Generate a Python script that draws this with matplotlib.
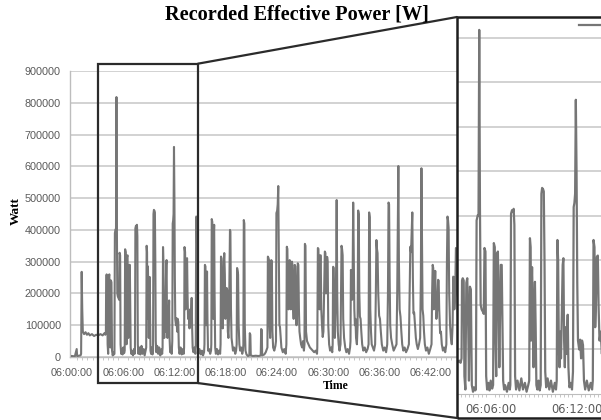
import matplotlib
matplotlib.use("Agg")
import matplotlib.pyplot as plt
from matplotlib.patches import Rectangle, ConnectionPatch
from matplotlib.ticker import MultipleLocator

# ---------------- data ----------------
# time in seconds after 06:00:00
t_sec = [
    0, 20, 30, 33, 36, 60, 64, 68, 72, 76, 85, 95, 105, 115, 125, 140, 155, 170, 185, 200, 215, 228, 234,
    238, 240, 243, 247, 250, 254, 258, 262, 266, 269, 273, 277, 281, 286,
    290, 295, 298, 301, 306, 309, 312, 315, 318, 322, 327, 331, 334, 338, 341, 345,
    350, 355, 360, 366,
    370, 373, 377, 380, 383, 386, 390, 393, 396, 399, 402, 406, 409, 412, 416,
    420, 428, 435, 440,
    442, 445, 449, 453, 456, 459, 462, 466,
    472, 480, 488, 495, 503, 510, 517,
    521, 524, 527, 529, 531, 533, 536, 539, 542, 545, 548, 551, 555,
    560, 565,
    569, 572, 575, 579, 582, 585, 588, 592,
    598, 605, 612, 620, 628, 633,
    636, 639, 642, 645, 648, 651, 654, 658, 661, 664, 667, 670, 673, 676, 679, 682, 685, 689,
    695, 700, 704, 707, 710, 713, 716, 719, 722, 725, 730, 734, 738, 742, 746, 750, 755,
    762, 770, 778, 784,
    787, 790, 794, 797, 800, 804, 808, 811, 815, 820, 825, 830, 835, 840, 843, 847,
    852, 860, 866,
    869, 872, 876, 879, 882, 888,
    895, 905, 912, 920, 927,
    930, 933, 937, 941, 945, 948, 951, 955,
    962, 970, 976,
    978, 981, 985, 988, 992, 995, 998, 1001, 1005, 1010,
    1018, 1025, 1032, 1040,
    1043, 1046, 1050, 1054, 1058, 1062, 1066, 1069, 1073, 1077, 1081, 1086, 1090, 1094, 1098,
    1102, 1106, 1109, 1112, 1116, 1120, 1125, 1130,
    1138, 1146, 1152,
    1156, 1159, 1163, 1166, 1170, 1175, 1180,
    1188, 1195, 1200,
    1203, 1206, 1210, 1213, 1218,
    1225, 1235, 1245, 1248, 1252, 1255, 1270, 1290, 1310, 1325, 1328, 1332, 1335, 1350, 1360, 1368,
    1372, 1375, 1379, 1383, 1387, 1391, 1395, 1399, 1403, 1407, 1412, 1420, 1428,
    1432, 1435, 1440, 1444, 1448, 1452, 1456, 1460, 1465, 1470, 1480, 1490, 1500,
    1505, 1508, 1512, 1516, 1520, 1524, 1528, 1532, 1536, 1540, 1544, 1548, 1552, 1556, 1560,
    1564, 1568, 1572, 1576, 1580, 1585, 1589, 1593, 1597, 1602, 1608, 1615, 1622, 1628,
    1632, 1635, 1639, 1643, 1650, 1660, 1670, 1680, 1690, 1700, 1710, 1720,
    1722, 1726, 1730, 1734, 1738, 1742, 1746, 1750, 1755, 1760, 1765, 1770, 1775, 1779, 1783,
    1787, 1791, 1795, 1799, 1805, 1812, 1820, 1827,
    1830, 1833, 1837, 1841, 1845, 1850, 1855, 1858, 1862, 1866, 1872,
    1878, 1885, 1889, 1892, 1896, 1900, 1904, 1910, 1918, 1926, 1935, 1945, 1952,
    1955, 1958, 1962, 1966, 1970, 1974, 1978, 1982, 1986, 1990, 1994, 2000,
    2005, 2009, 2013, 2017, 2021, 2026, 2031, 2037, 2045, 2055, 2065, 2075,
    2082, 2086, 2090, 2094, 2099, 2104, 2112, 2120,
    2128, 2133, 2137, 2141, 2145, 2150, 2156, 2162, 2168, 2175, 2185, 2195, 2205,
    2213, 2218, 2222, 2226, 2230, 2234, 2240, 2248, 2258, 2268,
    2278, 2283, 2287, 2291, 2295, 2300, 2306, 2312, 2318, 2326, 2335, 2345, 2355,
    2365, 2370, 2375, 2380, 2385, 2389, 2393, 2397, 2402, 2408, 2414, 2420, 2428, 2436,
    2444, 2449, 2453, 2457, 2461, 2466, 2471, 2477, 2485, 2495, 2505, 2515,
    2524, 2528, 2532, 2536, 2540, 2545, 2550, 2554, 2558, 2564, 2570, 2574, 2578, 2584, 2590,
    2596, 2604, 2612, 2620,
    2628, 2632, 2636, 2640, 2644, 2648, 2654, 2660, 2666,
    2672, 2676, 2680, 2684, 2690, 2695, 2700, 2705, 2712, 2720, 2735, 2750, 2765, 2780,
]
watt = [
    3000, 2000, 20000, 25000, 3000, 5000, 10000, 268000, 150000, 80000, 72000, 78000, 70000, 75000, 68000, 72000, 66000, 70000, 68000, 72000, 68000, 75000, 70000,
    80000, 255000, 260000, 255000, 40000, 10000, 250000, 260000, 150000, 30000, 241000, 235000, 20000, 5000,
    15000, 8000, 10000, 390000, 402000, 400000, 818000, 420000, 200000, 190000, 185000, 180000, 328000, 320000, 40000, 10000,
    25000, 8000, 30000, 12000,
    20000, 339000, 330000, 120000, 40000, 315000, 320000, 200000, 60000, 180000, 290000, 290000, 150000, 30000, 10000,
    20000, 5000, 25000, 10000,
    20000, 405000, 413000, 410000, 416000, 380000, 40000, 10000,
    30000, 8000, 35000, 10000, 25000, 5000, 20000,
    30000, 350000, 330000, 120000, 240000, 285000, 200000, 60000, 180000, 252000, 150000, 20000, 10000,
    30000, 8000,
    20000, 450000, 463000, 460000, 455000, 300000, 50000, 15000,
    35000, 10000, 30000, 5000, 25000, 10000,
    30000, 346000, 300000, 100000, 60000, 140000, 80000, 200000, 290000, 305000, 120000, 60000, 150000, 90000, 130000, 178000, 60000, 15000,
    25000, 10000, 50000, 420000, 429000, 450000, 661000, 500000, 250000, 120000, 100000, 122000, 80000, 120000, 110000, 30000, 10000,
    30000, 8000, 25000, 10000,
    30000, 346000, 330000, 150000, 200000, 308000, 311000, 200000, 120000, 140000, 90000, 150000, 120000, 186000, 100000, 30000,
    15000, 30000, 10000,
    40000, 442000, 440000, 300000, 40000, 10000,
    25000, 8000, 20000, 5000, 15000,
    40000, 290000, 285000, 100000, 200000, 269000, 120000, 20000,
    25000, 10000, 20000,
    40000, 434000, 425000, 200000, 120000, 380000, 416000, 200000, 30000, 10000,
    25000, 8000, 20000, 10000,
    40000, 316000, 310000, 150000, 90000, 200000, 300000, 327000, 260000, 120000, 180000, 217000, 210000, 80000, 60000,
    120000, 300000, 400000, 395000, 150000, 60000, 40000, 20000,
    30000, 10000, 20000,
    40000, 280000, 270000, 259000, 100000, 40000, 20000,
    30000, 10000, 20000,
    40000, 431000, 420000, 100000, 20000,
    8000, 3000, 5000, 75000, 70000, 5000, 3000, 4000, 3000, 5000, 88000, 85000, 5000, 8000, 15000, 25000,
    30000, 316000, 312000, 305000, 100000, 60000, 150000, 305000, 300000, 80000, 30000, 20000, 35000,
    50000, 453000, 460000, 480000, 538000, 300000, 100000, 95000, 60000, 30000, 15000, 25000, 10000,
    40000, 347000, 340000, 200000, 150000, 250000, 305000, 300000, 150000, 200000, 300000, 290000, 160000, 120000, 200000,
    290000, 285000, 150000, 100000, 160000, 295000, 290000, 150000, 80000, 60000, 40000, 30000, 50000, 20000,
    40000, 356000, 350000, 80000, 50000, 40000, 30000, 25000, 20000, 15000, 20000, 10000,
    30000, 343000, 340000, 200000, 150000, 320000, 320000, 150000, 100000, 63000, 80000, 200000, 332000, 327000, 200000,
    250000, 315000, 300000, 100000, 40000, 20000, 30000, 15000,
    40000, 284000, 280000, 100000, 60000, 150000, 300000, 494000, 200000, 80000, 40000,
    20000, 40000, 200000, 350000, 340000, 320000, 120000, 60000, 30000, 15000, 25000, 10000, 30000,
    50000, 274000, 260000, 180000, 250000, 486000, 300000, 150000, 100000, 120000, 60000, 40000,
    100000, 461000, 450000, 200000, 127000, 120000, 80000, 40000, 20000, 30000, 15000, 25000,
    40000, 455000, 440000, 150000, 80000, 40000, 30000, 20000,
    40000, 200000, 368000, 340000, 327000, 200000, 130000, 120000, 80000, 40000, 20000, 30000, 15000,
    40000, 200000, 486000, 480000, 250000, 100000, 60000, 40000, 20000, 30000,
    40000, 200000, 400000, 601000, 300000, 150000, 127000, 80000, 40000, 20000, 30000, 15000, 25000,
    40000, 200000, 347000, 330000, 400000, 455000, 250000, 137000, 140000, 100000, 60000, 40000, 25000, 40000,
    60000, 250000, 594000, 350000, 150000, 130000, 80000, 40000, 20000, 30000, 10000, 25000,
    40000, 200000, 290000, 280000, 150000, 200000, 271000, 180000, 120000, 150000, 243000, 240000, 150000, 75000, 80000,
    40000, 20000, 30000, 15000,
    40000, 300000, 442000, 430000, 406000, 200000, 100000, 60000, 40000,
    100000, 253000, 250000, 150000, 200000, 343000, 340000, 200000, 100000, 60000, 30000, 20000, 30000, 15000,
]

y_tick_values = [0, 100000, 200000, 300000, 400000, 500000, 600000, 700000, 800000, 900000]
y_tick_labels = ["0", "100000", "200000", "300000", "400000", "500000",
                 "600000", "700000", "800000", "900000"]
x_tick_sec = [0, 360, 720, 1080, 1440, 1800, 2160, 2520]
x_tick_labels = ["06:00:00", "06:06:00", "06:12:00", "06:18:00",
                 "06:24:00", "06:30:00", "06:36:00", "06:42:00"]
inset_tick_sec = [360, 720]
inset_tick_labels = ["06:06:00", "06:12:00"]
zoom_window = (182, 884)          # seconds marked by the rectangle
zoom_value_span = (-82000, 923000)

# ---------------- figure ----------------
W, H = 601, 420
fig = plt.figure(figsize=(W / 100, H / 100), dpi=100)
serif = ["Liberation Serif", "DejaVu Serif"]
sans = ["Liberation Sans", "DejaVu Sans"]
line_col = "#767676"
grid_col = "#cfcfcf"
axis_col = "#bdbdbd"
lab_col = "#5a5a5a"

ax = fig.add_axes([70 / W, (H - 357) / H, 400 / W, (357 - 71) / H])
ax.plot(t_sec, watt, color=line_col, lw=1.5, zorder=3)
ax.set_xlim(-14, 2794)
ax.set_ylim(0, 900000)
ax.set_yticks(y_tick_values)
ax.set_yticklabels(y_tick_labels, fontfamily=sans)
ax.set_xticks(x_tick_sec)
ax.set_xticklabels(x_tick_labels, fontfamily=sans)
ax.xaxis.set_minor_locator(MultipleLocator(36))
ax.grid(axis="y", color=grid_col, lw=1.3)
ax.set_axisbelow(True)
for s in ["top", "right"]:
    ax.spines[s].set_visible(False)
for s in ["left", "bottom"]:
    ax.spines[s].set_color(axis_col)
    ax.spines[s].set_linewidth(1.0)
ax.tick_params(axis="both", which="major", length=0, labelsize=7.8, labelcolor=lab_col)
ax.tick_params(axis="y", pad=6.5)
ax.tick_params(axis="x", pad=8)
ax.tick_params(axis="x", which="minor", length=2, color=axis_col)

ax.add_patch(Rectangle((zoom_window[0], zoom_value_span[0]),
                       zoom_window[1] - zoom_window[0],
                       zoom_value_span[1] - zoom_value_span[0],
                       fill=False, ec="#2b2b2b", lw=1.6, clip_on=False, zorder=6))

# ---------------- inset ----------------
ax_in = fig.add_axes([457 / W, 2 / H, 159 / W, 401 / H])
ax_in.set_facecolor("white")
leg_line, = ax_in.plot(t_sec, watt, color=line_col, lw=1.6, zorder=3)
ax_in.set_xlim(219, zoom_window[1])
ax_in.set_ylim(-54000, 847000)
ax_in.set_yticks(y_tick_values[1:9])
ax_in.set_yticklabels([])
ax_in.set_xticks(inset_tick_sec)
ax_in.set_xticklabels(inset_tick_labels, fontfamily=sans)
ax_in.xaxis.set_minor_locator(MultipleLocator(18))
ax_in.grid(axis="y", color=grid_col, lw=1.3)
ax_in.set_axisbelow(True)
for s in ["top", "left", "right"]:
    ax_in.spines[s].set_visible(False)
ax_in.spines["bottom"].set_position(("data", 0))
ax_in.spines["bottom"].set_color(axis_col)
ax_in.tick_params(axis="y", length=0)
ax_in.tick_params(axis="x", which="major", length=0, pad=6.5, labelsize=8.3, labelcolor=lab_col)
ax_in.tick_params(axis="x", which="minor", length=2, color=axis_col)
ax_in.add_patch(Rectangle((0, 0), 1, 1, transform=ax_in.transAxes, fill=False,
                          ec="#1e1e1e", lw=1.8, clip_on=False, zorder=6))
ax_in.legend([leg_line], [""], loc="upper left", bbox_to_anchor=(0.75, 0.998),
             frameon=False, fontsize=7, handlelength=2.4, borderaxespad=0, borderpad=0.3)

# connector lines
con_top = ConnectionPatch(xyA=(zoom_window[1], zoom_value_span[1]), coordsA=ax.transData,
                          xyB=(0, 1), coordsB=ax_in.transAxes, color="#2b2b2b", lw=1.6)
con_bot = ConnectionPatch(xyA=(zoom_window[1], zoom_value_span[0]), coordsA=ax.transData,
                          xyB=(0, 0), coordsB=ax_in.transAxes, color="#2b2b2b", lw=1.6)
fig.add_artist(con_top)
fig.add_artist(con_bot)

# ---------------- texts ----------------
fig.text(297 / W, 1 - 19.5 / H, "Recorded Effective Power [W]", ha="center", va="baseline",
         fontsize=14.6, fontweight="bold", fontfamily=serif)
fig.text(16 / W, 1 - 211 / H, "Watt", rotation=90, ha="center", va="center",
         fontsize=9.5, fontweight="bold", fontfamily=serif)
fig.text(336 / W, 1 - 386 / H, "Time", ha="center", va="center",
         fontsize=8.5, fontweight="bold", fontfamily=serif)

fig.savefig("out.png", dpi=100)
